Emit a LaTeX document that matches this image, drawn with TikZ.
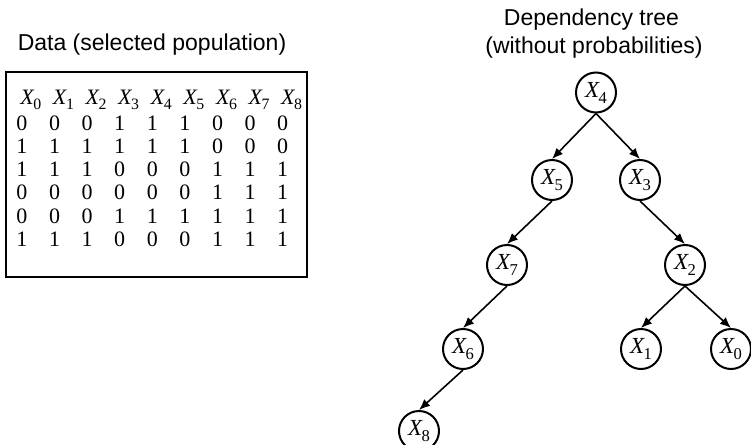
\documentclass[tikz,border=0pt]{standalone}
\usepackage{fontspec}
\usepackage{graphicx}
\setmainfont{Liberation Serif}
\setsansfont{Liberation Sans}
\usetikzlibrary{arrows.meta}
% variable name with an upright subscript
\newcommand{\xvar}[1]{\textit{X}\kern-0.05em\raisebox{-0.26em}{\scalebox{0.72}{#1}}}
\begin{document}
\begin{tikzpicture}[x=0.5pt, y=-0.5pt,
  varnode/.style = {circle, draw, line width=1pt, minimum size=20pt, inner sep=0pt,
                    font=\fontsize{11.5}{14}\selectfont},
  depedge/.style = {-{Latex[length=5.5pt, width=4.5pt]}, line width=0.8pt},
  titlelbl/.style = {font=\sffamily\fontsize{11.5}{14}\selectfont, anchor=base, inner sep=0pt},
  cell/.style = {font=\fontsize{11}{13}\selectfont, anchor=base west, inner sep=0pt},
  databox/.style = {line width=0.6pt}
]
  \useasboundingbox (0,0) rectangle (751,445);
  % titles
  \node[titlelbl] (datatitle) at (152,50) {Data (selected population)};
  \node[titlelbl] (treetitle) at (591.5,25) {Dependency tree};
  \node[titlelbl] (treesub) at (594,53) {(without probabilities)};
  % data table
  \draw[databox] (6,72) rectangle (307,277);
  \foreach \c in {0,...,8} {
    \node[cell] (h\c) at (20+32.6*\c,104) {\xvar{\c}};
  }
  \foreach \row [count=\r] in {{0,0,0,1,1,1,0,0,0},{1,1,1,1,1,1,0,0,0},
      {1,1,1,0,0,0,1,1,1},{0,0,0,0,0,0,1,1,1},{0,0,0,1,1,1,1,1,1},
      {1,1,1,0,0,0,1,1,1}} {
    \foreach \v [count=\c from 0] in \row {
      \node[cell] (d\r-\c) at (16+32.6*\c,106.7+23.3*\r) {\v};
    }
  }
  % dependency tree
  \node[varnode] (x4) at (596,92.5) {\xvar{4}};
  \node[varnode] (x5) at (552,180) {\xvar{5}};
  \node[varnode] (x3) at (640,180) {\xvar{3}};
  \node[varnode] (x7) at (507,265) {\xvar{7}};
  \node[varnode] (x2) at (685,265) {\xvar{2}};
  \node[varnode] (x6) at (463,349) {\xvar{6}};
  \node[varnode] (x1) at (641,349) {\xvar{1}};
  \node[varnode] (x0) at (731,349) {\xvar{0}};
  \node[varnode] (x8) at (419,431) {\xvar{8}};
  \foreach \a/\b in {x4/x5, x4/x3, x5/x7, x3/x2, x7/x6, x2/x1, x2/x0, x6/x8}
    \draw[depedge] (\a.south) -- (\b.north);
\end{tikzpicture}
\end{document}
